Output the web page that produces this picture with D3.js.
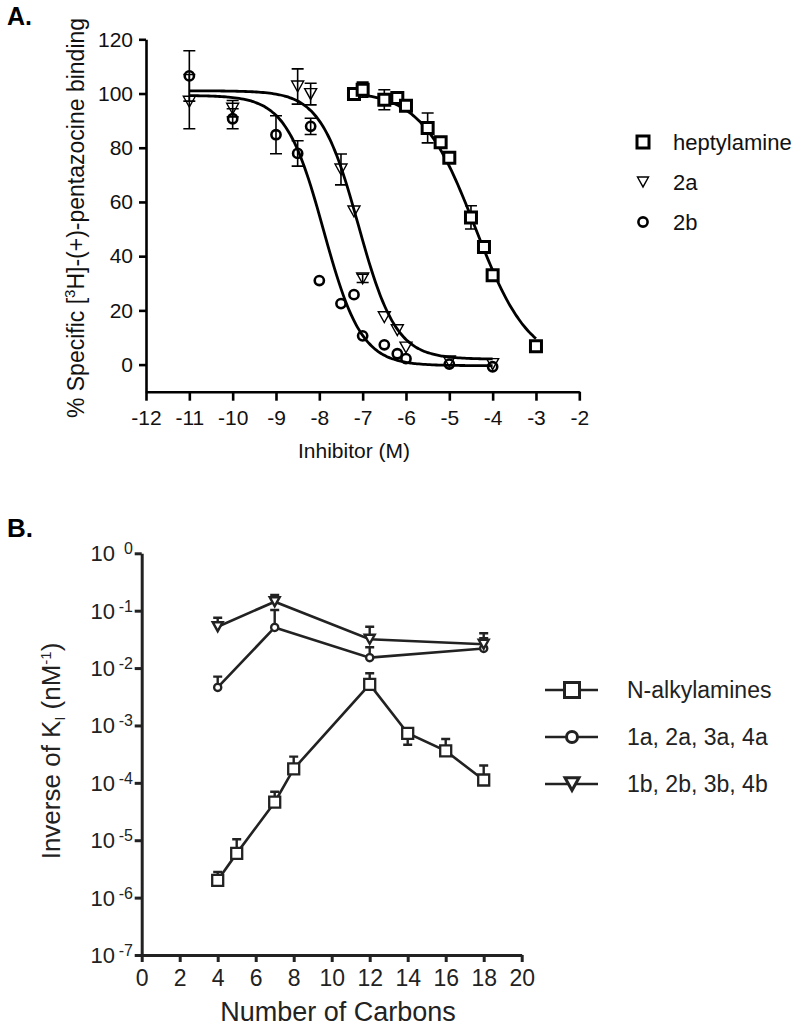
<!DOCTYPE html>
<html>
<head>
<meta charset="utf-8">
<script src="https://cdn.jsdelivr.net/npm/d3@7"></script>
<style>
body { margin: 0; background: #fff; }
svg { display: block; font-family: "Liberation Sans", Arial, sans-serif; }
</style>
</head>
<body>
<svg id="chart" width="800" height="1027"></svg>
<script>
// ---- panel A: competition binding, log[inhibitor] vs % specific binding
var heptX   = [-7.2, -7, -6.5, -6.2, -6, -5.5, -5.2, -5, -4.5, -4.2, -4, -3];
var heptY   = [99.8, 101.4, 97.7, 98.3, 95.5, 87.3, 82, 76.3, 54.3, 43.4, 33.0, 6.8];
var heptErr = [0, 2.8, 3.7, 0, 0, 5.5, 0, 0, 4.3, 0, 0, 0];

var a2X   = [-11, -10, -8.5, -8.2, -7.5, -7.2, -7, -6.5, -6.2, -6, -5, -4];
var a2Y   = [97, 94.4, 102.6, 99.8, 72, 56.5, 31.8, 17.5, 12.7, 6.3, 1.2, 0.2];
var a2Err = [10, 3, 6.5, 4, 5.7, 0, 1.5, 0, 0, 0, 0, 0];

var b2X   = [-11, -10, -9, -8.5, -8.2, -8, -7.5, -7.2, -7, -6.5, -6.2, -6, -5, -4];
var b2Y   = [106.5, 90.7, 84.8, 77.9, 87.9, 31, 22.5, 25.8, 10.6, 7.3, 4, 2.2, 0.2, -0.8];
var b2Err = [9.3, 3.7, 7, 4.7, 3, 0, 0, 0, 0, 0, 0, 0, 0, 0];

// fitted one-site curves: [top, bottom, logIC50, hill, from, to]
var heptFit = [101, 0, -4.4, 0.7, -7.2, -3];
var a2Fit   = [101, 2.0, -7.1, 1.0, -11, -4];
var b2Fit   = [99.3, -0.4, -7.9, 1.0, -11, -4];

var xTicksA = [-12, -11, -10, -9, -8, -7, -6, -5, -4, -3, -2];
var yTicksA = [0, 20, 40, 60, 80, 100, 120];
var legendA = ["heptylamine", "2a", "2b"];

// ---- panel B: inverse Ki vs chain length
var carbons  = [4, 5, 7, 8, 12, 14, 16, 18];
var alkyl    = [2.0e-6, 5.9e-6, 4.6e-5, 1.75e-4, 5.2e-3, 7.3e-4, 3.6e-4, 1.12e-4];
var alkylHi  = [2.8e-6, 1.04e-5, 7.0e-5, 2.86e-4, 8.1e-3, 8.4e-4, 5.8e-4, 2.0e-4];
var alkylLo  = [null, null, null, null, null, 4.6e-4, null, null];

var carbonsAB = [4, 7, 12, 18];
var seriesA   = [4.6e-3, 5.1e-2, 1.52e-2, 2.2e-2];
var seriesAHi = [7.1e-3, 1.03e-1, 2.3e-2, 3.3e-2];
var seriesB   = [5.26e-2, 1.435e-1, 3.17e-2, 2.6e-2];
var seriesBHi = [7.55e-2, 1.88e-1, 5.26e-2, 4.04e-2];

var xTicksB = [0, 2, 4, 6, 8, 10, 12, 14, 16, 18, 20];
var yTicksB = [-7, -6, -5, -4, -3, -2, -1, 0];
var legendB = ["N-alkylamines", "1a, 2a, 3a, 4a", "1b, 2b, 3b, 4b"];

var svg = d3.select("#chart");

function sq(cx, cy, s) {
    return "M" + (cx - s/2) + "," + (cy - s/2) + "h" + s + "v" + s + "h" + (-s) + "Z";
}
function tri(cx, cy, s) {
    var h = s * 0.9;
    return "M" + (cx - s/2) + "," + (cy - h/2) + "L" + (cx + s/2) + "," + (cy - h/2) + "L" + cx + "," + (cy + h/2) + "Z";
}
function logistic(p, x) {
    return p[1] + (p[0] - p[1]) / (1 + Math.pow(10, (x - p[2]) * p[3]));
}

// ================= panel A =================
var xA = d3.scaleLinear().domain([-12, -2]).range([146, 579.3]);
var yA = d3.scaleLinear().domain([-10, 120]).range([391.7, 39.3]);

svg.append("text").attr("x", 7).attr("y", 25).attr("font-size", 25).attr("font-weight", "bold").text("A.");

var gA = svg.append("g");

var ax = gA.append("g").attr("transform", "translate(0," + yA(-10) + ")")
    .call(d3.axisBottom(xA).tickValues(xTicksA).tickSize(9).tickSizeOuter(0).tickPadding(9));
var ay = gA.append("g").attr("transform", "translate(" + xA(-12) + ",0)")
    .call(d3.axisLeft(yA).tickValues(yTicksA).tickSize(7).tickSizeOuter(0).tickPadding(6));
[ax, ay].forEach(function(a) {
    a.select(".domain").attr("stroke", "#000").attr("stroke-width", 2.6);
    a.selectAll(".tick line").attr("stroke", "#000").attr("stroke-width", 2.6);
    a.selectAll(".tick text").attr("fill", "#111").style("font-size", "21px")
        .style("font-family", "'Liberation Sans', Arial, sans-serif");
});
ax.selectAll(".tick text").text(function(d) { return d; });

svg.append("text").attr("x", 354).attr("y", 458).attr("text-anchor", "middle")
    .attr("font-size", 21).attr("fill", "#111").text("Inhibitor (M)");

var labA = svg.append("text").attr("transform", "translate(84,218) rotate(-90)")
    .attr("text-anchor", "middle").attr("font-size", 23).attr("fill", "#111");
labA.append("tspan").text("% Specific [");
labA.append("tspan").attr("dy", -9).attr("font-size", 15).text("3");
labA.append("tspan").attr("dy", 9).text("H]-(+)-pentazocine binding");

// fitted curves
var lineA = d3.line().x(function(d) { return xA(d[0]); }).y(function(d) { return yA(d[1]); }).curve(d3.curveBasis);
[heptFit, a2Fit, b2Fit].forEach(function(p) {
    var pts = d3.range(p[4], p[5] + 0.001, 0.05).map(function(x) { return [x, logistic(p, x)]; });
    gA.append("path").attr("d", lineA(pts)).attr("fill", "none").attr("stroke", "#000").attr("stroke-width", 2.8);
});

// error bars
function errA(xs, ys, es) {
    xs.forEach(function(x, i) {
        if (!es[i]) return;
        var cx = xA(x), t = yA(ys[i] + es[i]), b = yA(ys[i] - es[i]);
        gA.append("path").attr("d", "M" + cx + "," + t + "V" + b + "M" + (cx - 6) + "," + t + "h12M" + (cx - 6) + "," + b + "h12")
            .attr("stroke", "#000").attr("stroke-width", 1.6).attr("fill", "none");
    });
}
errA(heptX, heptY, heptErr);
errA(a2X, a2Y, a2Err);
errA(b2X, b2Y, b2Err);

heptX.forEach(function(x, i) {
    gA.append("path").attr("d", sq(xA(x), yA(heptY[i]), 11)).attr("fill", "#fff").attr("stroke", "#000").attr("stroke-width", 3);
});
a2X.forEach(function(x, i) {
    gA.append("path").attr("d", tri(xA(x), yA(a2Y[i]), 12)).attr("fill", "none").attr("stroke", "#000").attr("stroke-width", 1.4);
});
b2X.forEach(function(x, i) {
    gA.append("circle").attr("cx", xA(x)).attr("cy", yA(b2Y[i])).attr("r", 4.6).attr("fill", "none").attr("stroke", "#000").attr("stroke-width", 2.6);
});

// legend A
var legA = svg.append("g");
legendA.forEach(function(name, i) {
    var cy = 142 + i * 40;
    if (i == 0) legA.append("path").attr("d", sq(643, cy, 12)).attr("fill", "#fff").attr("stroke", "#000").attr("stroke-width", 3);
    if (i == 1) legA.append("path").attr("d", tri(643, cy, 11)).attr("fill", "none").attr("stroke", "#000").attr("stroke-width", 1.4);
    if (i == 2) legA.append("circle").attr("cx", 643).attr("cy", cy).attr("r", 4.6).attr("fill", "none").attr("stroke", "#000").attr("stroke-width", 2.6);
    legA.append("text").attr("x", 673).attr("y", cy + 8).attr("font-size", 22).attr("fill", "#111").text(name);
});

// ================= panel B =================
var ink = "#222";
var xB = d3.scaleLinear().domain([0, 20]).range([141.7, 521.7]);
var yB = d3.scaleLog().domain([1e-7, 1]).range([955, 553.3]);

svg.append("text").attr("x", 7).attr("y", 537).attr("font-size", 26).attr("font-weight", "bold").text("B.");

var gB = svg.append("g");
var bx = gB.append("g").attr("transform", "translate(0," + yB(1e-7) + ")")
    .call(d3.axisBottom(xB).tickValues(xTicksB).tickSize(7).tickSizeOuter(0).tickPadding(8));
var by = gB.append("g").attr("transform", "translate(" + xB(0) + ",0)")
    .call(d3.axisLeft(yB).tickValues(yTicksB.map(function(p) { return Math.pow(10, p); })).tickSize(7).tickSizeOuter(0).tickFormat(""));
[bx, by].forEach(function(a) {
    a.select(".domain").attr("stroke", ink).attr("stroke-width", 3);
    a.selectAll(".tick line").attr("stroke", ink).attr("stroke-width", 3);
});
bx.selectAll(".tick text").attr("fill", ink).style("font-size", "23px")
    .style("font-family", "'Liberation Sans', Arial, sans-serif");

yTicksB.forEach(function(p) {
    var ty = yB(Math.pow(10, p));
    gB.append("text").attr("x", 115).attr("y", ty + 8).attr("text-anchor", "end")
        .attr("font-size", 22).attr("fill", ink).text("10");
    gB.append("text").attr("x", 133).attr("y", ty + 1).attr("text-anchor", "end")
        .attr("font-size", 16).attr("fill", ink).text(p == 0 ? "0" : "-" + Math.abs(p));
});

svg.append("text").attr("x", 338).attr("y", 1021).attr("text-anchor", "middle")
    .attr("font-size", 27).attr("fill", ink).text("Number of Carbons");

var labB = svg.append("text").attr("transform", "translate(60,751) rotate(-90)")
    .attr("text-anchor", "middle").attr("font-size", 26).attr("fill", ink);
labB.append("tspan").text("Inverse of K");
labB.append("tspan").attr("dy", 5).attr("font-size", 14).text("I");
labB.append("tspan").attr("dy", -5).text(" (nM");
labB.append("tspan").attr("dy", -9).attr("font-size", 15).text("-1");
labB.append("tspan").attr("dy", 9).text(")");

var lineB = d3.line().x(function(d) { return xB(d[0]); }).y(function(d) { return yB(d[1]); });
function seriesPath(xs, ys) {
    gB.append("path").attr("d", lineB(xs.map(function(x, i) { return [x, ys[i]]; })))
        .attr("fill", "none").attr("stroke", ink).attr("stroke-width", 2.6);
}
function errB(xs, ys, hi, lo) {
    xs.forEach(function(x, i) {
        var cx = xB(x), t = yB(hi[i]), m = yB(ys[i]);
        var d = "M" + cx + "," + m + "V" + t + "M" + (cx - 4.5) + "," + t + "h9";
        if (lo && lo[i]) {
            var b = yB(lo[i]);
            d += "M" + cx + "," + m + "V" + b + "M" + (cx - 4.5) + "," + b + "h9";
        }
        gB.append("path").attr("d", d).attr("stroke", ink).attr("stroke-width", 2.4).attr("fill", "none");
    });
}
seriesPath(carbons, alkyl);
seriesPath(carbonsAB, seriesA);
seriesPath(carbonsAB, seriesB);
errB(carbons, alkyl, alkylHi, alkylLo);
errB(carbonsAB, seriesA, seriesAHi);
errB(carbonsAB, seriesB, seriesBHi);

carbons.forEach(function(x, i) {
    gB.append("path").attr("d", sq(xB(x), yB(alkyl[i]), 11)).attr("fill", "#fff").attr("stroke", ink).attr("stroke-width", 2.3);
});
carbonsAB.forEach(function(x, i) {
    gB.append("circle").attr("cx", xB(x)).attr("cy", yB(seriesA[i])).attr("r", 3.6).attr("fill", "#fff").attr("stroke", ink).attr("stroke-width", 2.3);
});
carbonsAB.forEach(function(x, i) {
    gB.append("path").attr("d", tri(xB(x), yB(seriesB[i]), 10)).attr("fill", "#fff").attr("stroke", ink).attr("stroke-width", 2.4);
});

// legend B
var legB = svg.append("g");
legendB.forEach(function(name, i) {
    var cy = 690 + i * 47;
    legB.append("line").attr("x1", 545).attr("x2", 598).attr("y1", cy).attr("y2", cy).attr("stroke", ink).attr("stroke-width", 2.6);
    if (i == 0) legB.append("path").attr("d", sq(572, cy, 15)).attr("fill", "#fff").attr("stroke", ink).attr("stroke-width", 3);
    if (i == 1) legB.append("circle").attr("cx", 572).attr("cy", cy).attr("r", 5.5).attr("fill", "#fff").attr("stroke", ink).attr("stroke-width", 3);
    if (i == 2) legB.append("path").attr("d", tri(572, cy, 14)).attr("fill", "#fff").attr("stroke", ink).attr("stroke-width", 3);
    legB.append("text").attr("x", 627).attr("y", cy + 8).attr("font-size", 23).attr("fill", ink).text(name);
});
</script>
</body>
</html>
